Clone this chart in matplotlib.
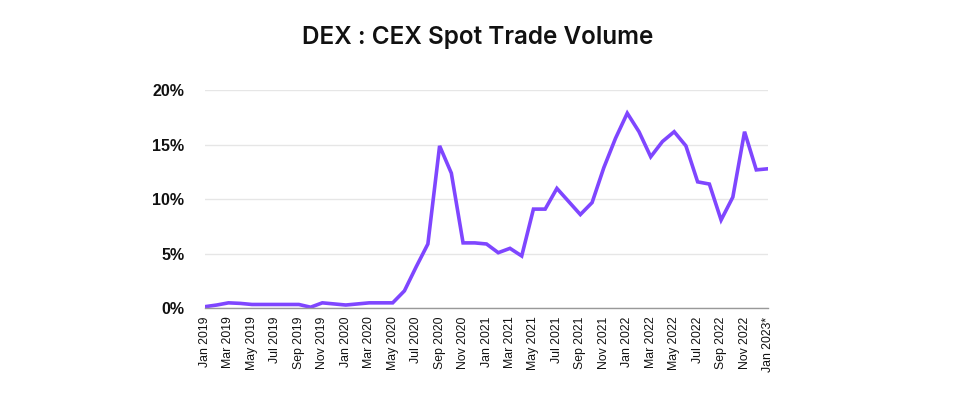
import matplotlib.pyplot as plt
import numpy as np

# Monthly DEX : CEX spot volume ratio (%), Jan 2019 .. Jan 2023
months = ['Jan 2019', 'Feb 2019', 'Mar 2019', 'Apr 2019', 'May 2019', 'Jun 2019',
          'Jul 2019', 'Aug 2019', 'Sep 2019', 'Oct 2019', 'Nov 2019', 'Dec 2019',
          'Jan 2020', 'Feb 2020', 'Mar 2020', 'Apr 2020', 'May 2020', 'Jun 2020',
          'Jul 2020', 'Aug 2020', 'Sep 2020', 'Oct 2020', 'Nov 2020', 'Dec 2020',
          'Jan 2021', 'Feb 2021', 'Mar 2021', 'Apr 2021', 'May 2021', 'Jun 2021',
          'Jul 2021', 'Aug 2021', 'Sep 2021', 'Oct 2021', 'Nov 2021', 'Dec 2021',
          'Jan 2022', 'Feb 2022', 'Mar 2022', 'Apr 2022', 'May 2022', 'Jun 2022',
          'Jul 2022', 'Aug 2022', 'Sep 2022', 'Oct 2022', 'Nov 2022', 'Dec 2022',
          'Jan 2023*']
ratio = [0.15, 0.3, 0.5, 0.45, 0.35, 0.35, 0.35, 0.35, 0.35, 0.1, 0.5, 0.4,
         0.3, 0.4, 0.5, 0.5, 0.5, 1.6, 3.8, 5.9, 14.9, 12.4, 6.0, 6.0,
         5.9, 5.1, 5.5, 4.8, 9.1, 9.1, 11.0, 9.8, 8.6, 9.7, 12.9, 15.6,
         17.9, 16.2, 13.9, 15.3, 16.2, 14.9, 11.6, 11.4, 8.1, 10.2, 16.2, 12.7,
         12.8]

x = np.arange(len(months))

fig = plt.figure(figsize=(9.55, 3.98), dpi=100)
ax = fig.add_axes([0.2147, 0.2254, 0.5895, 0.5477])

ax.plot(x, ratio, color='#7F46FF', linewidth=2.6, solid_joinstyle='miter')

ax.set_xlim(0, len(months) - 1)
ax.set_ylim(0, 20)
ax.set_yticks([0, 5, 10, 15, 20])
ax.set_yticklabels(['0%', '5%', '10%', '15%', '20%'],
                   fontfamily='Liberation Sans', fontweight='bold', fontsize=11.5,
                   color='#111111')
ax.set_xticks(x[::2])
ax.set_xticklabels(months[::2], rotation=90, fontfamily='Liberation Sans',
                   fontsize=8.8, color='#111111')
ax.tick_params(length=0)
ax.tick_params(axis='y', pad=15)
ax.tick_params(axis='x', pad=6)

ax.grid(axis='y', color='#e6e6e6', linewidth=1)
ax.set_axisbelow(True)
for s in ['top', 'right', 'left']:
    ax.spines[s].set_visible(False)
ax.spines['bottom'].set_color('#999999')
ax.spines['bottom'].set_linewidth(1)

fig.text(0.5, 0.905, 'DEX : CEX Spot Trade Volume', ha='center', va='center',
         fontfamily='Inter', fontweight='semibold', fontsize=17.5, color='#111111')

fig.savefig('out.png', dpi=100)
